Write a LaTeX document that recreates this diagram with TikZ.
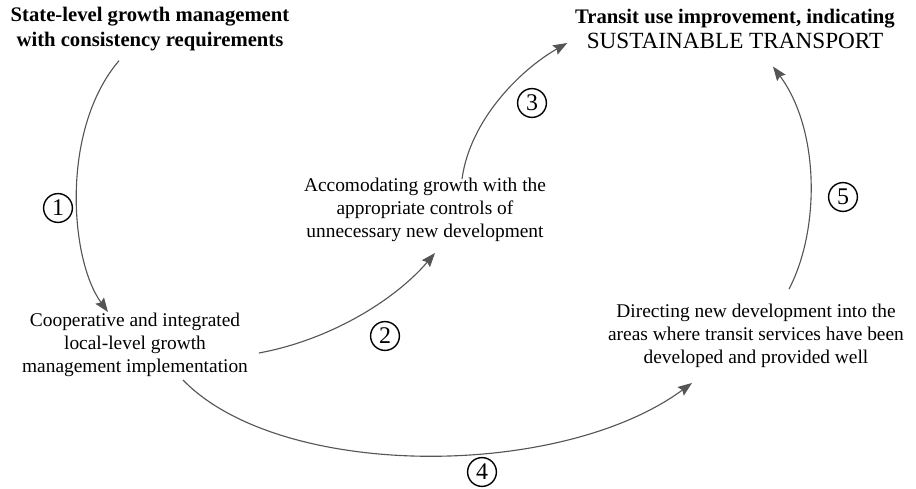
\documentclass[tikz,border=0pt]{standalone}
\usepackage{fontspec}
\setmainfont{Liberation Serif}
\usetikzlibrary{arrows.meta}

\begin{document}
\begin{tikzpicture}[x=0.025cm, y=-0.025cm,
        flowarrow/.style={draw={rgb,255:red,85; green,85; blue,85}, line width=0.8pt, -{Stealth[length=10pt, width=7.5pt, inset=1.5pt]}},
        stepnum/.style={circle, draw, line width=1pt, inner sep=0pt, minimum size=0.72cm, font=\fontsize{17}{17}\selectfont},
        headtext/.style={align=center, font=\fontsize{14.7}{17.5}\selectfont\bfseries},
        bodytext/.style={align=center, font=\fontsize{13.8}{16.5}\selectfont}]
        \useasboundingbox (0,0) rectangle (916,488);
        % the five statements
        \node [headtext] (state) at (150,29) {State-level growth management\\with consistency requirements};
        \node [headtext] (transit) at (735,29) {Transit use improvement, indicating\\\mdseries\fontsize{16.5}{17.5}\selectfont SUSTAINABLE TRANSPORT};
        \node [bodytext] (accom) at (425,210) {Accomodating growth with the\\appropriate controls of\\unnecessary new development};
        \node [bodytext] (coop) at (135,345) {Cooperative and integrated\\local-level growth\\management implementation};
        \node [bodytext] (direct) at (756,336) {Directing new development into the\\areas where transit services have been\\developed and provided well};
        % the five links
        \draw [flowarrow] ([shift={(-31,5)}]state.south) .. controls (60,130) and (70,260) .. ([shift={(-27,4)}]coop.north);
        \draw [flowarrow] ([shift={(6,8)}]coop.east) .. controls (330,340) and (395,300) .. ([shift={(10,6)}]accom.south);
        \draw [flowarrow] ([shift={(37,6)}]accom.north) .. controls (470,120) and (520,70) .. ([shift={(-3,14)}]transit.west);
        \draw [flowarrow] ([shift={(48,-2)}]coop.south) .. controls (280,480) and (560,480) .. ([shift={(-64,10)}]direct.south);
        \draw [flowarrow] ([shift={(33,-10)}]direct.north) .. controls (820,230) and (820,130) .. ([shift={(38,13)}]transit.south);
        % step numbers
        \node [stepnum] (n1) at (58,208) {1};
        \node [stepnum] (n2) at (385,336) {2};
        \node [stepnum] (n3) at (532,103) {3};
        \node [stepnum] (n4) at (482,472) {4};
        \node [stepnum] (n5) at (843,197) {5};
\end{tikzpicture}
\end{document}
